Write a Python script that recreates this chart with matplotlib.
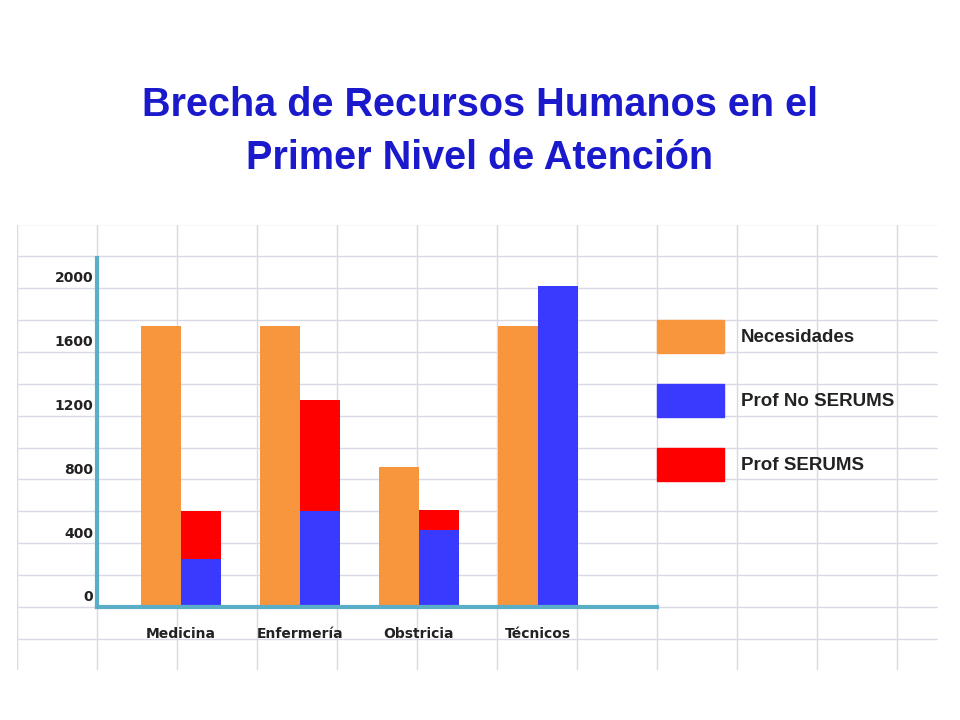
import matplotlib
matplotlib.use("Agg")
import matplotlib.pyplot as plt
from matplotlib.patches import Rectangle
import numpy as np

categories = ["Medicina", "Enfermería", "Obstricia", "Técnicos"]
necesidades = [1760, 1760, 880, 1760]
prof_no_serums = [300, 600, 480, 2010]
prof_serums = [300, 700, 130, 0]
yticks = [0, 400, 800, 1200, 1600, 2000]
legend_labels = ["Necesidades", "Prof No SERUMS", "Prof SERUMS"]
colors = ["#f7963c", "#3a3aff", "#ff0000"]

W, H = 960, 720
fig = plt.figure(figsize=(9.6, 7.2), dpi=100)
fig.patch.set_facecolor("white")

def fx(px): return px / W
def fy(py): return 1 - py / H

fig.text(0.5, fy(105), "Brecha de Recursos Humanos en el", ha="center", va="center",
         color="#1a1acc", fontsize=28.5, fontweight="bold", family="Liberation Sans")
fig.text(0.5, fy(158), "Primer Nivel de Atención", ha="center", va="center",
         color="#1a1acc", fontsize=28.5, fontweight="bold", family="Liberation Sans")

x0, x1, y0, y1 = 17, 938, 225, 670
ax = fig.add_axes([fx(x0), fy(y1), fx(x1) - fx(x0), fy(y0) - fy(y1)])
pxu = 0.1595
spacing = 119.0
cx0 = 181
ax.set_xlim((x0 - cx0) / spacing, (x1 - cx0) / spacing)
ax.set_ylim(-(y1 - 607) / pxu, (607 - y0) / pxu)
for s in ax.spines.values():
    s.set_visible(False)
ax.set_xticks([]); ax.set_yticks([])

for k in range(13):
    ax.axvline((x0 + 80 * k - cx0) / spacing, color="#d9d9e6", lw=1, zorder=0)
for v in range(-400, 2600, 200):
    ax.axhline(v, color="#d9d9e6", lw=1, zorder=0)

x = np.arange(len(categories))
w = 40 / spacing
ax.bar(x - w / 2, necesidades, w, color=colors[0], zorder=2)
ax.bar(x + w / 2, prof_no_serums, w, color=colors[1], zorder=2)
ax.bar(x + w / 2, prof_serums, w, bottom=prof_no_serums, color=colors[2], zorder=2)

axis_c = "#5aaec8"
xa = (97 - cx0) / spacing
ax.plot([xa, xa], [0, (607 - 258) / pxu], color=axis_c, lw=3, zorder=3)
ax.plot([xa, (657 - cx0) / spacing], [0, 0], color=axis_c, lw=3, zorder=3)

for t in yticks:
    ax.text((93 - cx0) / spacing, t + 60, str(t), ha="right", va="center",
            fontsize=10, fontweight="bold", color="#222222")
for i, c in enumerate(categories):
    ax.text(i, -170, c, ha="center", va="center", fontsize=10,
            fontweight="bold", color="#222222")

for i, (lab, col) in enumerate(zip(legend_labels, colors)):
    top = 320 + 64 * i
    fig.add_artist(Rectangle((fx(657), fy(top + 33)), fx(67), fy(top) - fy(top + 33),
                             transform=fig.transFigure, color=col))
    fig.text(fx(741), fy(top + 17), lab, ha="left", va="center", fontsize=13.5,
             fontweight="bold", color="#222222", family="Liberation Sans")

fig.savefig("out.png", dpi=100)
